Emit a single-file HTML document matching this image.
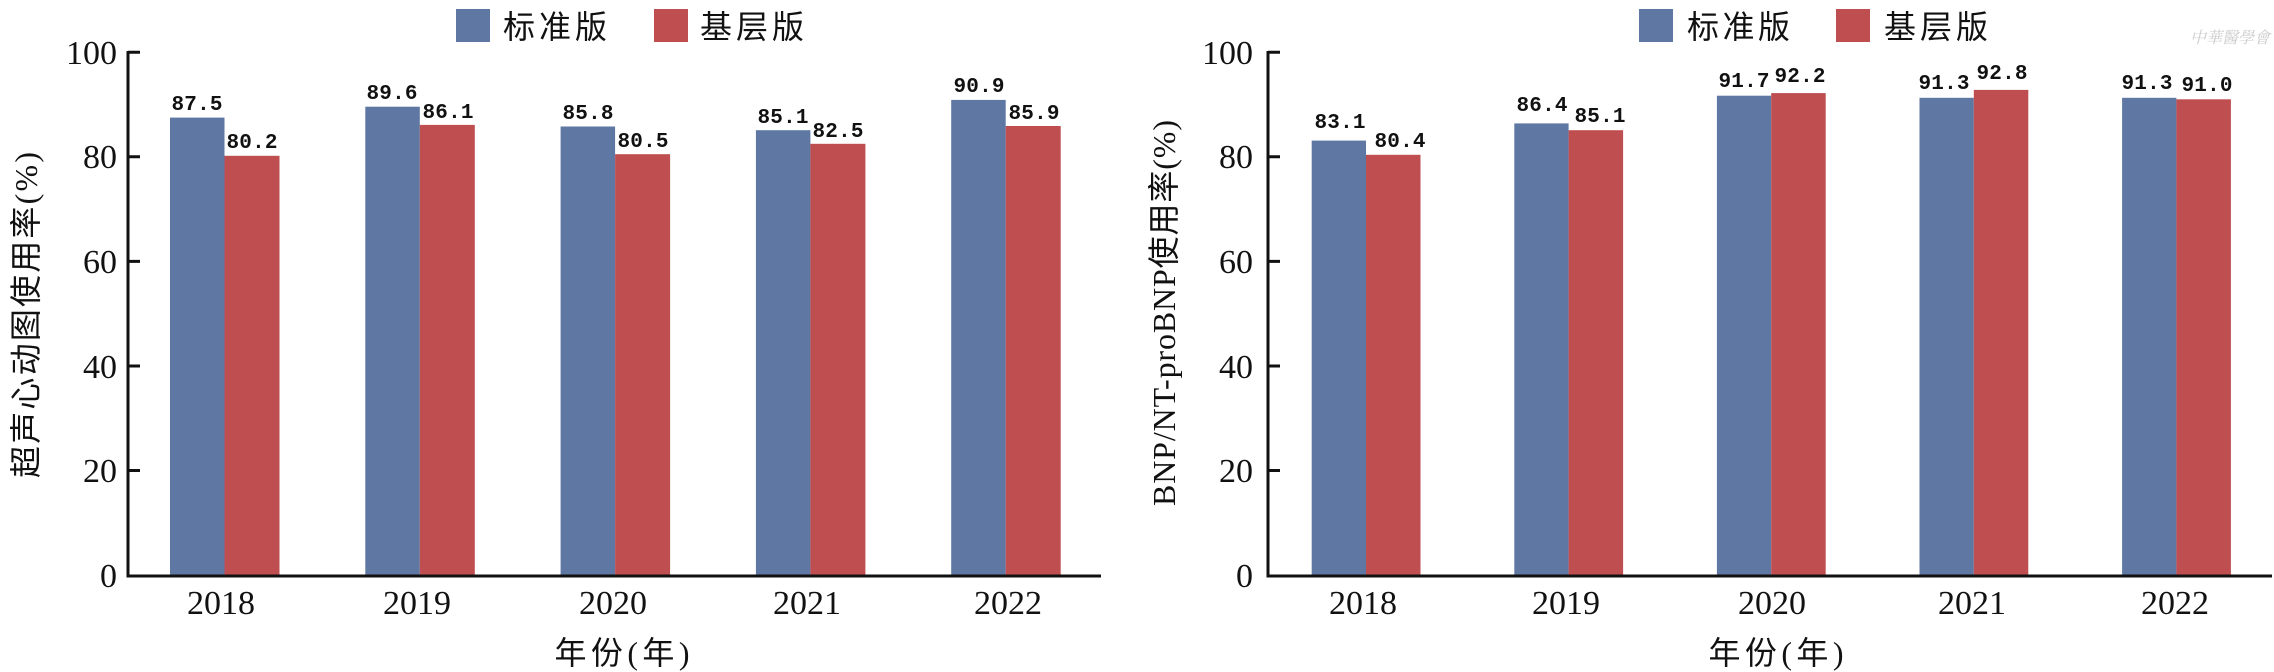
<!DOCTYPE html>
<html><head><meta charset="utf-8"><style>
html,body{margin:0;padding:0;background:#fff;}
svg{display:block;}
.tk{font-family:"Liberation Serif","Noto Serif CJK SC",serif;font-size:34px;fill:#111;}
.v{font-family:"Liberation Mono",monospace;font-size:21px;font-weight:bold;fill:#111;}
.cj{font-family:"Liberation Serif","Noto Sans CJK SC",sans-serif;font-size:32px;fill:#111;}
</style></head><body>
<svg width="2274" height="672" viewBox="0 0 2274 672" xmlns="http://www.w3.org/2000/svg">
<!-- LEFT CHART -->
<g>
<rect x="456" y="9" width="34" height="33" fill="#5e77a3"/>
<text x="503" y="38" class="cj" font-size="34" textLength="104">标准版</text>
<rect x="654" y="9" width="34" height="33" fill="#be4e50"/>
<text x="700" y="38" class="cj" font-size="34" textLength="104">基层版</text>

<g fill="#5e77a3">
<rect x="170" y="117.6" width="54.5" height="457.4"/>
<rect x="365.3" y="106.7" width="54.5" height="468.3"/>
<rect x="560.6" y="126.5" width="54.5" height="448.5"/>
<rect x="755.9" y="130.2" width="54.5" height="444.8"/>
<rect x="951.2" y="99.9" width="54.5" height="475.1"/>
</g>
<g fill="#be4e50">
<rect x="224.5" y="155.8" width="55" height="419.2"/>
<rect x="419.8" y="124.9" width="55" height="450.1"/>
<rect x="615.1" y="154.2" width="55" height="420.8"/>
<rect x="810.4" y="143.8" width="55" height="431.2"/>
<rect x="1005.7" y="126" width="55" height="449"/>
</g>
<g class="v" text-anchor="middle">
<text x="197" y="110" textLength="51">87.5</text>
<text x="252" y="148" textLength="51">80.2</text>
<text x="392" y="99" textLength="51">89.6</text>
<text x="448" y="118" textLength="51">86.1</text>
<text x="588" y="119" textLength="51">85.8</text>
<text x="643" y="147" textLength="51">80.5</text>
<text x="783" y="123" textLength="51">85.1</text>
<text x="838" y="137" textLength="51">82.5</text>
<text x="979" y="92" textLength="51">90.9</text>
<text x="1034" y="119" textLength="51">85.9</text>
</g>
<g stroke="#111" stroke-width="3" fill="none">
<path d="M128 51 V576 H1101"/>
<path d="M128 52.3h12M128 156.8h12M128 261.4h12M128 366h12M128 470.5h12"/>
</g>
<g class="tk" text-anchor="end">
<text x="117" y="64">100</text>
<text x="117" y="168">80</text>
<text x="117" y="273">60</text>
<text x="117" y="378">40</text>
<text x="117" y="482">20</text>
<text x="117" y="587">0</text>
</g>
<g class="tk" text-anchor="middle" font-size="36">
<text x="221" y="614">2018</text>
<text x="417" y="614">2019</text>
<text x="613" y="614">2020</text>
<text x="807" y="614">2021</text>
<text x="1008" y="614">2022</text>
</g>
<text x="622" y="664" class="cj" text-anchor="middle" textLength="135">年份(年)</text>
<text transform="translate(37,315) rotate(-90)" class="cj" text-anchor="middle" textLength="326">超声心动图使用率(%)</text>
</g>

<!-- RIGHT CHART -->
<g>
<rect x="1639" y="9" width="34" height="33" fill="#5e77a3"/>
<text x="1687" y="38" class="cj" font-size="34" textLength="103">标准版</text>
<rect x="1836" y="9" width="34" height="33" fill="#be4e50"/>
<text x="1884" y="38" class="cj" font-size="34" textLength="104">基层版</text>

<g fill="#5e77a3">
<rect x="1311.7" y="140.6" width="54.3" height="434.4"/>
<rect x="1514.3" y="123.4" width="54.3" height="451.6"/>
<rect x="1716.9" y="95.7" width="54.3" height="479.3"/>
<rect x="1919.5" y="97.8" width="54.3" height="477.2"/>
<rect x="2122.1" y="97.8" width="54.3" height="477.2"/>
</g>
<g fill="#be4e50">
<rect x="1366" y="154.8" width="54.5" height="420.2"/>
<rect x="1568.6" y="130.2" width="54.5" height="444.8"/>
<rect x="1771.2" y="93.1" width="54.5" height="481.9"/>
<rect x="1973.8" y="89.9" width="54.5" height="485.1"/>
<rect x="2176.4" y="99.3" width="54.5" height="475.7"/>
</g>
<g class="v" text-anchor="middle">
<text x="1340" y="128" textLength="51">83.1</text>
<text x="1400" y="147" textLength="51">80.4</text>
<text x="1542" y="111" textLength="51">86.4</text>
<text x="1600" y="122" textLength="51">85.1</text>
<text x="1744" y="87" textLength="51">91.7</text>
<text x="1800" y="82" textLength="51">92.2</text>
<text x="1944" y="89" textLength="51">91.3</text>
<text x="2002" y="79" textLength="51">92.8</text>
<text x="2147" y="89" textLength="51">91.3</text>
<text x="2207" y="91" textLength="51">91.0</text>
</g>
<g stroke="#111" stroke-width="3" fill="none">
<path d="M1268 51 V576 H2272"/>
<path d="M1268 52.3h12M1268 156.8h12M1268 261.4h12M1268 366h12M1268 470.5h12"/>
</g>
<g class="tk" text-anchor="end">
<text x="1253" y="64">100</text>
<text x="1253" y="168">80</text>
<text x="1253" y="273">60</text>
<text x="1253" y="378">40</text>
<text x="1253" y="482">20</text>
<text x="1253" y="587">0</text>
</g>
<g class="tk" text-anchor="middle" font-size="36">
<text x="1363" y="614">2018</text>
<text x="1566" y="614">2019</text>
<text x="1772" y="614">2020</text>
<text x="1972" y="614">2021</text>
<text x="2175" y="614">2022</text>
</g>
<text x="1776" y="664" class="cj" text-anchor="middle" textLength="135">年份(年)</text>
<text transform="translate(1175,313) rotate(-90)" class="cj" text-anchor="middle" textLength="386">BNP/NT-proBNP使用率(%)</text>
<text x="2190" y="43" font-family="Liberation Serif,'Noto Serif CJK SC',serif" font-size="16" fill="#ccc" font-style="italic">中華醫學會</text>
</g>
</svg>
</body></html>
